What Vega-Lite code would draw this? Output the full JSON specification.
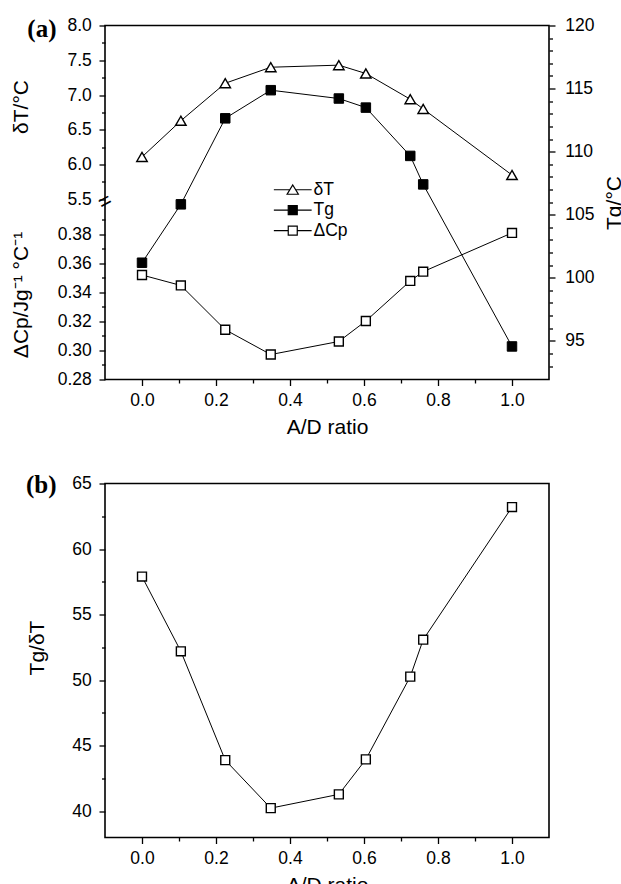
{
  "$schema": "https://vega.github.io/schema/vega-lite/v6.json",
  "padding": {"left": 9, "top": 15.5, "right": 5, "bottom": 2},
  "datasets": {
    "d": [
      {"r": 0.0, "dT": 6.11, "Tg": 101.19, "dCp": 0.352, "ratio": 57.9},
      {"r": 0.105, "dT": 6.63, "Tg": 105.82, "dCp": 0.3448, "ratio": 52.2},
      {"r": 0.225, "dT": 7.17, "Tg": 112.64, "dCp": 0.3143, "ratio": 43.9},
      {"r": 0.348, "dT": 7.40, "Tg": 114.87, "dCp": 0.2972, "ratio": 40.24},
      {"r": 0.532, "dT": 7.43, "Tg": 114.21, "dCp": 0.3062, "ratio": 41.29},
      {"r": 0.605, "dT": 7.31, "Tg": 113.49, "dCp": 0.3203, "ratio": 43.96},
      {"r": 0.725, "dT": 6.94, "Tg": 109.66, "dCp": 0.3479, "ratio": 50.27},
      {"r": 0.76, "dT": 6.80, "Tg": 107.40, "dCp": 0.3543, "ratio": 53.09},
      {"r": 1.0, "dT": 5.85, "Tg": 94.55, "dCp": 0.381, "ratio": 63.2}
    ]
  },
  "spacing": 33,
  "resolve": {"scale": {"shape": "independent", "fill": "independent", "stroke": "independent"}},
  "vconcat": [
    {
      "width": 444,
      "height": 354,
      "data": {"name": "d"},
      "resolve": {"scale": {"x": "independent", "y": "independent"}},
      "layer": [
        {
          "mark": {"type": "line", "color": "black", "strokeWidth": 1},
          "encoding": {
            "x": {"field": "r", "type": "quantitative", "scale": {"domain": [-0.1, 1.1], "nice": false},
              "axis": {"orient": "bottom", "values": [0, 0.2, 0.4, 0.6, 0.8, 1.0], "format": ".1f", "tickSize": 6, "labelPadding": 6.3, "title": "A/D ratio", "titlePadding": 7}},
            "y": {"field": "dT", "type": "quantitative", "scale": {"domain": [2.91, 8.0], "nice": false},
              "axis": {"orient": "left", "values": [5.5, 6.0, 6.5, 7.0, 7.5, 8.0], "format": ".1f", "tickSize": 6, "labelPadding": 7.7, "title": "δT/°C", "titleY": 81, "titlePadding": 35}}
          }
        },
        {
          "mark": {"type": "point", "filled": true, "fill": "white", "stroke": "black", "strokeWidth": 1.4, "size": 110, "opacity": 1, "shape": "triangle-up"},
          "encoding": {
            "x": {"field": "r", "type": "quantitative", "scale": {"domain": [-0.1, 1.1], "nice": false},
              "axis": {"orient": "bottom", "values": [0.1, 0.3, 0.5, 0.7, 0.9], "labels": false, "tickSize": 3.5, "title": null}},
            "y": {"field": "dT", "type": "quantitative", "scale": {"domain": [2.91, 8.0], "nice": false},
              "axis": {"orient": "left", "values": [5.75, 6.25, 6.75, 7.25, 7.75], "labels": false, "tickSize": 3.5, "title": null}}
          }
        },
        {
          "mark": {"type": "line", "color": "black", "strokeWidth": 1},
          "encoding": {
            "x": {"field": "r", "type": "quantitative", "scale": {"domain": [-0.1, 1.1], "nice": false}, "axis": null},
            "y": {"field": "Tg", "type": "quantitative", "scale": {"domain": [91.93, 120], "nice": false},
              "axis": {"orient": "right", "values": [95, 100, 105, 110, 115, 120], "tickSize": 6, "labelPadding": 9.7, "title": "Tg/°C", "titleAngle": 270, "titleBaseline": "top", "titlePadding": 10}}
          }
        },
        {
          "mark": {"type": "point", "filled": true, "fill": "black", "stroke": "black", "strokeWidth": 1, "size": 90, "opacity": 1, "shape": "square"},
          "encoding": {
            "x": {"field": "r", "type": "quantitative", "scale": {"domain": [-0.1, 1.1], "nice": false}, "axis": null},
            "y": {"field": "Tg", "type": "quantitative", "scale": {"domain": [91.93, 120], "nice": false},
              "axis": {"orient": "right", "values": [93, 94, 96, 97, 98, 99, 101, 102, 103, 104, 106, 107, 108, 109, 111, 112, 113, 114, 116, 117, 118, 119], "labels": false, "tickSize": 3.5, "title": null}}
          }
        },
        {
          "mark": {"type": "line", "color": "black", "strokeWidth": 1},
          "encoding": {
            "x": {"field": "r", "type": "quantitative", "scale": {"domain": [-0.1, 1.1], "nice": false}, "axis": null},
            "y": {"field": "dCp", "type": "quantitative", "scale": {"domain": [0.28, 0.5239], "nice": false},
              "axis": {"orient": "left", "values": [0.28, 0.30, 0.32, 0.34, 0.36, 0.38], "format": ".2f", "tickSize": 6, "labelPadding": 7.7, "title": "ΔCp/Jg⁻¹ °C⁻¹", "titleY": 269, "titlePadding": 26}}
          }
        },
        {
          "mark": {"type": "point", "filled": true, "fill": "white", "stroke": "black", "strokeWidth": 1.4, "size": 80, "opacity": 1, "shape": "square"},
          "encoding": {
            "x": {"field": "r", "type": "quantitative", "scale": {"domain": [-0.1, 1.1], "nice": false}, "axis": null},
            "y": {"field": "dCp", "type": "quantitative", "scale": {"domain": [0.28, 0.5239], "nice": false},
              "axis": {"orient": "left", "values": [0.29, 0.31, 0.33, 0.35, 0.37, 0.39], "labels": false, "tickSize": 3.5, "title": null}}
          }
        },
        {
          "transform": [{"filter": "datum.r > 5"}],
          "mark": {"type": "point", "filled": true, "strokeWidth": 1.2, "opacity": 1},
          "encoding": {
            "x": {"field": "r", "type": "quantitative", "scale": {"domain": [-0.1, 1.1], "nice": false}, "axis": null},
            "y": {"field": "dT", "type": "quantitative", "scale": {"domain": [2.91, 8.0], "nice": false}, "axis": null},
            "shape": {"datum": "δT", "type": "nominal",
              "scale": {"domain": ["δT", "Tg", "ΔCp"], "range": ["M-4.2,0H-0.6M0.6,0H4.2M0,-1.05L1.25,1L-1.25,1Z", "M-4.2,0H-1M1,0H4.2M-1,-1H1V1H-1Z", "M-4.2,0H-1M1,0H4.2M-1,-1H1V1H-1Z"]},
              "legend": {
                "orient": "none", "legendX": 179, "legendY": 155.5, "title": null,
                "labelFont": "Liberation Sans", "labelFontSize": 17.5, "labelColor": "black",
                "symbolSize": 81, "symbolStrokeWidth": 1.2, "symbolOpacity": 1,
                "labelOffset": 12, "rowPadding": 1.4, "padding": 0
              }
            },
            "fill": {"datum": "δT", "type": "nominal",
              "scale": {"domain": ["δT", "Tg", "ΔCp"], "range": ["white", "black", "white"]},
              "legend": {
                "orient": "none", "legendX": 179, "legendY": 155.5, "title": null,
                "labelFont": "Liberation Sans", "labelFontSize": 17.5, "labelColor": "black",
                "symbolSize": 81, "symbolStrokeWidth": 1.2, "symbolOpacity": 1,
                "labelOffset": 12, "rowPadding": 1.4, "padding": 0
              }
            },
            "stroke": {"datum": "δT", "type": "nominal",
              "scale": {"domain": ["δT", "Tg", "ΔCp"], "range": ["black", "black", "black"]},
              "legend": {
                "orient": "none", "legendX": 179, "legendY": 155.5, "title": null,
                "labelFont": "Liberation Sans", "labelFontSize": 17.5, "labelColor": "black",
                "symbolSize": 81, "symbolStrokeWidth": 1.2, "symbolOpacity": 1,
                "labelOffset": 12, "rowPadding": 1.4, "padding": 0
              }
            }
          }
        },
        {
          "data": {"values": [{"label": "(a)"}]},
          "mark": {"type": "text", "font": "Liberation Serif", "fontWeight": "bold", "fontSize": 25, "align": "left", "baseline": "middle", "dx": -77.7, "dy": 3, "color": "black"},
          "encoding": {
            "x": {"datum": -0.1, "type": "quantitative", "scale": {"domain": [-0.1, 1.1], "nice": false}, "axis": null},
            "y": {"datum": 8.0, "type": "quantitative", "scale": {"domain": [2.91, 8.0], "nice": false}, "axis": null},
            "text": {"field": "label"}
          }
        },
        {
          "data": {"values": [{"label": "="}]},
          "mark": {"type": "text", "font": "Liberation Sans", "fontSize": 22, "align": "center", "baseline": "middle", "angle": 332, "color": "black"},
          "encoding": {
            "x": {"datum": -0.1, "type": "quantitative", "scale": {"domain": [-0.1, 1.1], "nice": false}, "axis": null},
            "y": {"datum": 5.47, "type": "quantitative", "scale": {"domain": [2.91, 8.0], "nice": false}, "axis": null},
            "text": {"field": "label"}
          }
        }
      ]
    },
    {
      "width": 444,
      "height": 354,
      "data": {"name": "d"},
      "resolve": {"scale": {"x": "independent", "y": "independent"}},
      "layer": [
        {
          "mark": {"type": "line", "color": "black", "strokeWidth": 1},
          "encoding": {
            "x": {"field": "r", "type": "quantitative", "scale": {"domain": [-0.1, 1.1], "nice": false},
              "axis": {"orient": "bottom", "values": [0, 0.2, 0.4, 0.6, 0.8, 1.0], "format": ".1f", "tickSize": 6, "labelPadding": 6.3, "title": "A/D ratio", "titlePadding": 7}},
            "y": {"field": "ratio", "type": "quantitative", "scale": {"domain": [38, 65], "nice": false},
              "axis": {"orient": "left", "values": [40, 45, 50, 55, 60, 65], "tickSize": 6, "labelPadding": 7.7, "title": "Tg/δT", "titleY": 164, "titlePadding": 24}}
          }
        },
        {
          "mark": {"type": "point", "filled": true, "fill": "white", "stroke": "black", "strokeWidth": 1.4, "size": 80, "opacity": 1, "shape": "square"},
          "encoding": {
            "x": {"field": "r", "type": "quantitative", "scale": {"domain": [-0.1, 1.1], "nice": false},
              "axis": {"orient": "bottom", "values": [0.1, 0.3, 0.5, 0.7, 0.9], "labels": false, "tickSize": 3.5, "title": null}},
            "y": {"field": "ratio", "type": "quantitative", "scale": {"domain": [38, 65], "nice": false},
              "axis": {"orient": "left", "values": [42.5, 47.5, 52.5, 57.5, 62.5], "labels": false, "tickSize": 3.5, "title": null}}
          }
        },
        {
          "data": {"values": [{"label": "(b)"}]},
          "mark": {"type": "text", "font": "Liberation Serif", "fontWeight": "bold", "fontSize": 25, "align": "left", "baseline": "middle", "dx": -79, "dy": 1, "color": "black"},
          "encoding": {
            "x": {"datum": -0.1, "type": "quantitative", "scale": {"domain": [-0.1, 1.1], "nice": false}, "axis": null},
            "y": {"datum": 65, "type": "quantitative", "scale": {"domain": [38, 65], "nice": false}, "axis": null},
            "text": {"field": "label"}
          }
        }
      ]
    }
  ],
  "config": {
    "font": "Liberation Sans",
    "view": {"stroke": "black", "strokeWidth": 1.6},
    "axis": {
      "grid": false, "domain": false, "ticks": true, "tickColor": "black", "tickWidth": 1.3, "zindex": 1,
      "labelFont": "Liberation Sans", "labelFontSize": 17.5, "labelColor": "black",
      "labelFlush": false, "labelOverlap": false,
      "titleFont": "Liberation Sans", "titleFontSize": 21, "titleFontWeight": "normal", "titleColor": "black"
    }
  }
}
